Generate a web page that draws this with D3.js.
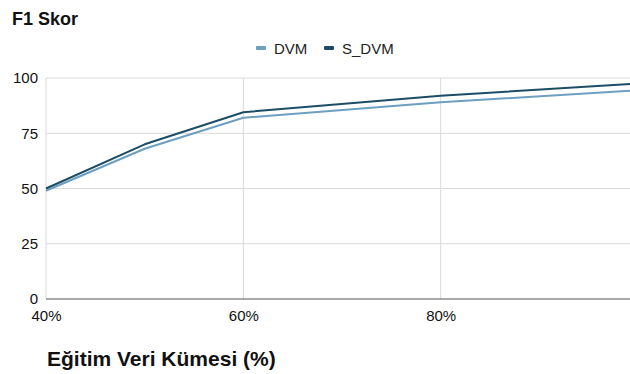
<!DOCTYPE html>
<html>
<head>
<meta charset="utf-8">
<script src="https://cdn.jsdelivr.net/npm/d3@7"></script>
<style>
  html, body { margin: 0; padding: 0; background: #fff; }
  svg { display: block; font-family: "Liberation Sans", Arial, sans-serif; }
</style>
</head>
<body>
<svg id="chart" width="630" height="374"></svg>
<script>
// Training set share (%) and F1 scores per model
const trainShare = [40, 50, 60, 80, 100];
const dvm = [49, 68, 82, 89, 94.5];
const sDvm = [50, 70, 84.5, 92, 97.5];
const xTicks = [40, 60, 80];
const yTicks = [0, 25, 50, 75, 100];
const seriesNames = ["DVM", "S_DVM"];
const seriesColors = ["#6c9fc0", "#1c4d64"];

const svg = d3.select("#chart");
const x = d3.scaleLinear().domain([40, 100]).range([46, 638]);
const y = d3.scaleLinear().domain([0, 100]).range([299, 78]);

// Title
svg.append("text").attr("x", 12).attr("y", 25)
  .attr("font-size", 18).attr("font-weight", "bold").attr("fill", "#111")
  .text("F1 Skor");

// Horizontal gridlines
svg.append("g").selectAll("line").data(yTicks.filter(d => d > 0)).join("line")
  .attr("x1", x(40)).attr("x2", 630)
  .attr("y1", d => y(d)).attr("y2", d => y(d))
  .attr("stroke", "#d9d9d9").attr("stroke-width", 1);

// Vertical gridlines
svg.append("g").selectAll("line").data(xTicks).join("line")
  .attr("x1", d => x(d)).attr("x2", d => x(d))
  .attr("y1", y(100)).attr("y2", y(0))
  .attr("stroke", "#d9d9d9").attr("stroke-width", 1);

// Y axis labels
const yAxis = svg.append("g").attr("transform", `translate(${x(40)},0)`)
  .call(d3.axisLeft(y).tickValues(yTicks).tickSize(0).tickPadding(8));
yAxis.select(".domain").remove();
yAxis.selectAll("text").attr("font-size", 15).attr("fill", "#111")
  .attr("font-family", "Liberation Sans, Arial, sans-serif");

// X axis
const xAxis = svg.append("g").attr("transform", `translate(0,${y(0)})`)
  .call(d3.axisBottom(x).tickValues(xTicks).tickSize(0).tickPadding(11)
    .tickFormat(d => d + "%"));
xAxis.select(".domain").attr("stroke", "#555").attr("d", `M${x(40)},0H630`);
xAxis.selectAll("text").attr("font-size", 15).attr("fill", "#111")
  .attr("font-family", "Liberation Sans, Arial, sans-serif");

// Axis title
svg.append("text").attr("x", 47).attr("y", 366)
  .attr("font-size", 21).attr("font-weight", "bold").attr("fill", "#111")
  .text("Eğitim Veri Kümesi (%)");

// Lines
const line = d3.line().x((d, i) => x(trainShare[i])).y(d => y(d));
[dvm, sDvm].forEach((vals, k) => {
  svg.append("path").datum(vals)
    .attr("d", line).attr("fill", "none")
    .attr("stroke", seriesColors[k]).attr("stroke-width", 2)
    .attr("stroke-linejoin", "round");
});

// Legend
const legend = svg.append("g");
const legendX = [256, 324];
seriesNames.forEach((name, k) => {
  const g = legend.append("g").attr("transform", `translate(${legendX[k]},48)`);
  g.append("rect").attr("x", 0).attr("y", -2).attr("width", 10).attr("height", 4)
    .attr("rx", 1).attr("fill", seriesColors[k]);
  g.append("text").attr("x", 18).attr("y", 5.5)
    .attr("font-size", 15).attr("fill", "#222").text(name);
});
</script>
</body>
</html>
